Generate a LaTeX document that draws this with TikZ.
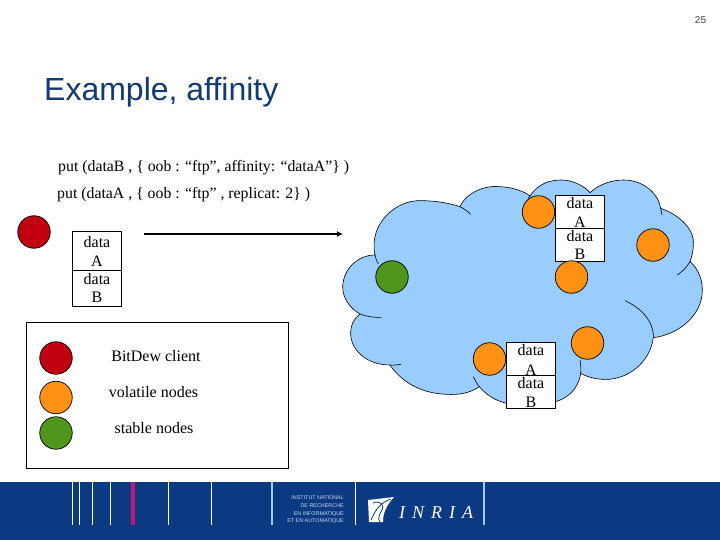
\documentclass[tikz,border=0pt]{standalone}
\usetikzlibrary{arrows.meta}
\usepackage{fontspec}
\setmainfont{Liberation Serif}
\newfontfamily\headfont{Liberation Sans}
\definecolor{cloudblue}{HTML}{99CCFF}
\definecolor{navy}{HTML}{0C3A82}
\definecolor{titlenavy}{HTML}{123A73}
\definecolor{pagegrey}{HTML}{3A4450}
\definecolor{volatile}{HTML}{FF9215}
\definecolor{stable}{HTML}{4F961A}
\definecolor{clientred}{HTML}{C00010}
\definecolor{rulelight}{HTML}{A9C8F0}
\definecolor{insttext}{HTML}{C4D8F2}
\definecolor{pinkbar}{HTML}{C4127F}
\newcommand{\firstline}[2]{\rule{0pt}{#1}#2}
\tikzset{
  dot/.style={circle,draw=black,line width=0.7pt,minimum size=32.5pt,inner sep=0pt},
  vol/.style={dot,fill=volatile},
  stab/.style={dot,fill=stable},
  cli/.style={dot,fill=clientred},
  datacell/.style={draw=black,fill=white,line width=0.7pt,minimum width=49pt,minimum height=33pt,inner sep=0pt,outer sep=0pt,
    font=\fontsize{16}{18.5}\selectfont,align=center},
  celltop/.style={datacell,font=\fontsize{16}{20}\selectfont},
  cellsrca/.style={datacell,minimum height=39pt,font=\fontsize{16}{19}\selectfont},
  cellsrcb/.style={datacell,minimum height=36pt,font=\fontsize{16}{18}\selectfont},
  body/.style={font=\fontsize{15.8}{18}\selectfont,inner sep=0pt,anchor=base west},
  legend/.style={font=\fontsize{16}{18}\selectfont,inner sep=0pt,anchor=base},
  whiterule/.style={draw=white,line width=1pt},
  bluerule/.style={draw=rulelight,line width=1.4pt},
  cloudline/.style={draw=black,line width=0.6pt}
}
\begin{document}
\begin{tikzpicture}[x=1pt,y=-1pt]
\useasboundingbox (0,0) rectangle (720,540);
\fill[white] (0,0) rectangle (720,540);
\node[font=\headfont\fontsize{10}{12}\selectfont,inner sep=0pt,text=pagegrey] (pg) at (700.5,20) {25};
\node[font=\headfont\fontsize{32}{36}\selectfont,anchor=base west,inner sep=0pt,text=titlenavy] (title) at (44,101) {Example, affinity};
\node[body] (l1) at (58,172) {put (dataB , \{ oob : “ftp”, affinity: “dataA”\} )};
\node[body] (l2) at (57,199) {put (dataA , \{ oob : “ftp” , replicat: 2\} )};

% cloud
\begin{scope}[x=0.33333pt,y=-0.33333pt,shift={(990,540)}]
\fill[cloudblue,cloudline] (135,225)
  .. controls (115,130) and (200,60) .. (270,62)
  .. controls (320,62) and (360,70) .. (390,80)
  .. controls (410,35) and (470,15) .. (510,20)
  .. controls (550,22) and (585,35) .. (600,48)
  .. controls (625,10) and (660,0) .. (695,0)
  .. controls (730,0) and (765,20) .. (780,38)
  .. controls (810,10) and (850,0) .. (880,0)
  .. controls (940,0) and (985,40) .. (992,85)
  .. controls (1050,105) and (1095,150) .. (1090,195)
  .. controls (1090,215) and (1085,230) .. (1080,245)
  .. controls (1105,265) and (1117,300) .. (1117,330)
  .. controls (1117,410) and (1040,465) .. (970,473)
  .. controls (960,550) and (890,600) .. (825,598)
  .. controls (795,598) and (770,590) .. (752,580)
  .. controls (745,630) and (710,655) .. (677,665)
  -- (529,670)
  .. controls (490,660) and (465,640) .. (448,620)
  .. controls (420,640) and (385,645) .. (350,643)
  .. controls (270,640) and (215,605) .. (180,555)
  .. controls (110,555) and (62,510) .. (62,460)
  .. controls (62,435) and (72,415) .. (90,402)
  .. controls (60,385) and (38,355) .. (38,320)
  .. controls (40,265) and (85,225) .. (135,225) -- cycle;
\draw[cloudline] (390,80) .. controls (400,85) and (412,93) .. (422,103);
\draw[cloudline] (600,48) .. controls (598,50) and (597,52) .. (595,55);
\draw[cloudline] (992,85) .. controls (993,92) and (995,98) .. (996,105);
\draw[cloudline] (1080,245) .. controls (1070,262) and (1057,275) .. (1042,285);
\draw[cloudline] (885,362) .. controls (935,385) and (972,425) .. (970,473);
\draw[cloudline] (752,580) .. controls (753,570) and (753,555) .. (750,540);
\draw[cloudline] (448,620) .. controls (440,610) and (435,600) .. (430,590);
\draw[cloudline] (180,555) .. controls (190,556) and (202,555) .. (213,553);
\draw[cloudline] (90,402) .. controls (110,410) and (132,413) .. (155,412);
\draw[cloudline] (135,225) .. controls (137,235) and (140,243) .. (145,252);
\end{scope}

% nodes
\node[cli] (client) at (34,232) {};
\node[cellsrca] (srcA) at (97,250.5) {\firstline{12pt}{data}\\A};
\node[cellsrcb] (srcB) at (97,288) {\firstline{12pt}{data}\\B};
\coordinate (arrowstart) at (144,234);
\coordinate (arrowend) at (343,234);
\draw[line width=1.7pt,-{Latex[length=6pt,width=6pt]}] (arrowstart) -- (arrowend);

\node[vol] (v1) at (538.5,212) {};
\node[celltop] (upA) at (580,211.5) {\firstline{13pt}{data}\\A};
\node[datacell] (upB) at (580,244.5) {\firstline{12pt}{data}\\B};
\node[vol] (v2) at (571.5,277) {};
\node[vol] (v3) at (653,245) {};
\node[stab] (s1) at (392,277) {};
\node[vol] (v4) at (587.5,343) {};
\node[vol] (v5) at (489.5,359) {};
\node[celltop] (lowA) at (531,359) {\firstline{13pt}{data}\\A};
\node[datacell] (lowB) at (531,392) {\firstline{12pt}{data}\\B};

% legend
\node[draw=black,line width=0.8pt,minimum width=262pt,minimum height=146pt,inner sep=0pt] (box) at (157,395) {};
\node[cli] (lc) at (56,358) {};
\node[vol] (lv) at (56,397.5) {};
\node[stab] (ls) at (56,433) {};
\node[legend] (tc) at (156,361) {BitDew client};
\node[legend] (tv) at (153.5,397) {volatile nodes};
\node[legend] (ts) at (154,433) {stable nodes};

% footer
\fill[navy] (0,482) rectangle (720,540);
\draw[whiterule] (72.5,482) -- (72.5,525);
\draw[whiterule] (79.5,482) -- (79.5,525);
\draw[whiterule] (92.5,482) -- (92.5,525);
\draw[whiterule] (110.5,482) -- (110.5,525);
\draw[pinkbar,line width=4.6pt] (133,482) -- (133,525);
\draw[whiterule] (168.5,482) -- (168.5,525);
\draw[whiterule] (211.5,482) -- (211.5,525);
\draw[bluerule] (272,482) -- (272,525);
\draw[whiterule] (355,482) -- (355,525);
\draw[bluerule] (484,482) -- (484,525);
\node[font=\headfont\fontsize{5.4}{7.6}\selectfont,align=right,anchor=east,inner sep=0,text=insttext] (inst) at (344,510)
  {INSTITUT NATIONAL\\DE RECHERCHE\\EN INFORMATIQUE\\ET EN AUTOMATIQUE};
% logo
\fill[white] (368,500) -- (394,497) .. controls (387,505) and (383,512) .. (383,522) -- (369,522) -- cycle;
\draw[navy,line width=0.8pt] (371,520) .. controls (376,508) and (382,502) .. (391,499);
\draw[navy,line width=0.8pt] (373,503) .. controls (380,500) and (385,505) .. (382,510) .. controls (380,514) and (377,518) .. (380,522);
\node[font=\fontsize{18}{18}\selectfont\itshape,text=white,anchor=base west,inner sep=0pt] (inria) at (399,518) {I\hspace{7pt}N\hspace{7pt}R\hspace{7pt}I\hspace{7pt}A};
\end{tikzpicture}
\end{document}
